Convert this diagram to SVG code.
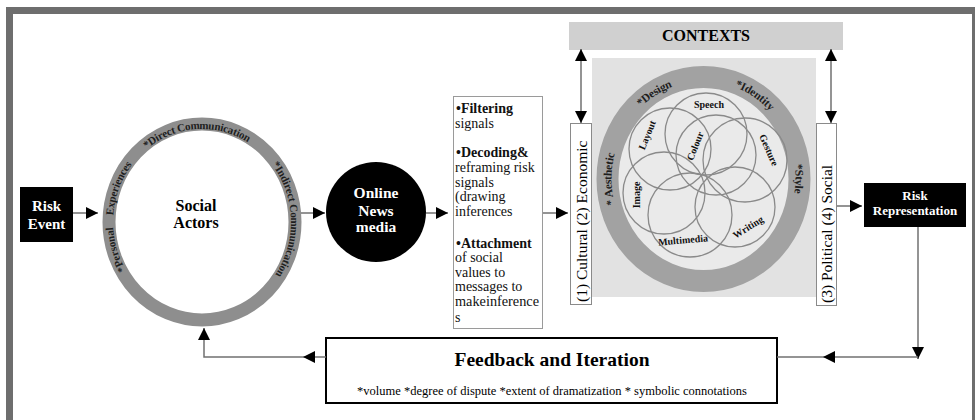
<svg xmlns="http://www.w3.org/2000/svg" width="975" height="420" viewBox="0 0 975 420">
<style>
  .serif { font-family: "Liberation Serif", "Times New Roman", serif; }
  .b { font-weight: bold; }
  .wt { fill: #ffffff; }
  .conn { stroke: #707070; stroke-width: 1.5; fill: none; }
  .ringtxt { font-family: "Liberation Serif", serif; font-weight: bold; fill: #1e1e1e; }
  .petal { fill: none; stroke: #8a8a8a; stroke-width: 1.3; }
  .plabel { font-family: "Liberation Serif", serif; font-weight: bold; font-size: 10px; fill: #111; text-anchor: middle; dominant-baseline: central; }
  .boxtxt { font-family: "Liberation Serif", serif; font-size: 14px; fill: #111; }
</style>
<defs>
  <marker id="ah" viewBox="0 0 12 12" refX="12" refY="6" markerWidth="12" markerHeight="12" markerUnits="userSpaceOnUse" orient="auto-start-reverse">
    <path d="M0,0 L12,6 L0,12 z" fill="#000"/>
  </marker>
  <path id="saPath" d="M202,319 A93,97 0 1,1 202,125 A93,97 0 1,1 202,319"/>
  <path id="bigPath" d="M703.5,281 A96,102 0 1,1 703.5,77 A96,102 0 1,1 703.5,281"/>
</defs>

<rect width="975" height="420" fill="#ffffff"/>
<rect x="9.5" y="10.5" width="966" height="430" fill="none" stroke="#6e6e6e" stroke-width="7"/>

<g id="risk-event">
  <rect x="20" y="187" width="53" height="55" fill="#000"/>
  <text class="serif b wt" font-size="15" x="46.5" y="211" text-anchor="middle">Risk</text>
  <text class="serif b wt" font-size="15" x="46.5" y="229" text-anchor="middle">Event</text>
</g>

<g id="social-actors">
  <ellipse cx="202" cy="222" rx="93" ry="98" fill="#fff" stroke="#8e8e8e" stroke-width="13"/>
  <text class="ringtxt" font-size="11" dominant-baseline="central"><textPath href="#saPath" startOffset="26%" text-anchor="middle" word-spacing="10">*Personal Experiences</textPath></text>
  <text class="ringtxt" font-size="11" dominant-baseline="central"><textPath href="#saPath" startOffset="49%" text-anchor="middle">*Direct Communication</textPath></text>
  <text class="ringtxt" font-size="11" dominant-baseline="central"><textPath href="#saPath" startOffset="74.5%" text-anchor="middle">*Indirect Communication</textPath></text>
  <text class="serif b" font-size="16" x="196" y="211" text-anchor="middle">Social</text>
  <text class="serif b" font-size="16" x="196" y="228" text-anchor="middle">Actors</text>
</g>

<g id="online-news">
  <circle cx="376" cy="212" r="50" fill="#000"/>
  <text class="serif b wt" font-size="15.5" x="376" y="198" text-anchor="middle">Online</text>
  <text class="serif b wt" font-size="15.5" x="376" y="216" text-anchor="middle">News</text>
  <text class="serif b wt" font-size="15.5" x="376" y="232" text-anchor="middle">media</text>
</g>

<g id="processing">
  <rect x="453.5" y="96.5" width="89" height="232" fill="#fff" stroke="#9a9a9a" stroke-width="1"/>
  <text class="boxtxt" x="456" y="113"><tspan font-weight="bold">•Filtering</tspan></text>
  <text class="boxtxt" x="455" y="128">signals</text>
  <text class="boxtxt" x="456" y="157"><tspan font-weight="bold">•Decoding&amp;</tspan></text>
  <text class="boxtxt" x="455" y="172">reframing risk</text>
  <text class="boxtxt" x="455" y="187">signals</text>
  <text class="boxtxt" x="455" y="201">(drawing</text>
  <text class="boxtxt" x="455" y="216">inferences</text>
  <text class="boxtxt" x="456" y="248"><tspan font-weight="bold">•Attachment</tspan></text>
  <text class="boxtxt" x="455" y="262">of social</text>
  <text class="boxtxt" x="455" y="277">values to</text>
  <text class="boxtxt" x="455" y="291">messages to</text>
  <text class="boxtxt" x="455" y="306" textLength="84" lengthAdjust="spacingAndGlyphs">makeinference</text>
  <text class="boxtxt" x="455" y="322" font-size="11">s</text>
</g>

<g id="contexts">
  <rect x="569" y="22" width="274" height="28" fill="#d0d0d0"/>
  <text class="serif b" font-size="16" x="706" y="41" text-anchor="middle">CONTEXTS</text>
</g>

<g id="context-left">
  <rect x="570.5" y="123.5" width="21" height="181" fill="#fff" stroke="#8a8a8a" stroke-width="1"/>
  <text class="serif" font-size="15.5" transform="translate(587,302) rotate(-90)">(1) Cultural (2) Economic</text>
</g>

<g id="modes">
  <rect x="592" y="58" width="224" height="239" fill="#e2e2e2"/>
  <ellipse cx="703.5" cy="179" rx="96" ry="102" fill="#eaeaea" stroke="#a2a2a2" stroke-width="22"/>
  <text class="ringtxt" font-size="11.5" fill="#3a3a3a" dominant-baseline="central"><textPath href="#bigPath" startOffset="25%" text-anchor="middle">* Aesthetic</textPath></text>
  <text class="ringtxt" font-size="11.5" fill="#3a3a3a" dominant-baseline="central"><textPath href="#bigPath" startOffset="41.5%" text-anchor="middle">*Design</textPath></text>
  <text class="ringtxt" font-size="11.5" fill="#3a3a3a" dominant-baseline="central"><textPath href="#bigPath" startOffset="59%" text-anchor="middle">*Identity</textPath></text>
  <text class="ringtxt" font-size="11.5" fill="#3a3a3a" dominant-baseline="central"><textPath href="#bigPath" startOffset="75%" text-anchor="middle">*Style</textPath></text>
  <circle class="petal" cx="706" cy="134" r="41"/>
  <circle class="petal" cx="670" cy="149" r="41"/>
  <circle class="petal" cx="716" cy="155" r="40"/>
  <circle class="petal" cx="745" cy="160" r="42"/>
  <circle class="petal" cx="664" cy="193" r="41"/>
  <circle class="petal" cx="690" cy="215" r="42"/>
  <circle class="petal" cx="735" cy="207" r="40"/>
  <text class="plabel" x="709" y="104">Speech</text>
  <text class="plabel" transform="translate(647,135) rotate(-68)">Layout</text>
  <text class="plabel" transform="translate(695,146) rotate(-68)">Colour</text>
  <text class="plabel" transform="translate(769,150) rotate(66)">Gesture</text>
  <text class="plabel" transform="translate(636,195) rotate(-90)">Image</text>
  <text class="plabel" transform="translate(683,240) rotate(-5)">Multimedia</text>
  <text class="plabel" transform="translate(748,227) rotate(-32)">Writing</text>
</g>

<g id="context-right">
  <rect x="816.5" y="123.5" width="20" height="182" fill="#fff" stroke="#8a8a8a" stroke-width="1"/>
  <text class="serif" font-size="15.5" transform="translate(832,303) rotate(-90)">(3) Political (4) Social</text>
</g>

<g id="risk-representation">
  <rect x="864" y="183" width="102" height="44" fill="#000"/>
  <text class="serif b wt" font-size="13" x="915" y="200" text-anchor="middle">Risk</text>
  <text class="serif b wt" font-size="13" x="915" y="215" text-anchor="middle">Representation</text>
</g>

<g id="feedback">
  <rect x="326" y="338" width="451" height="65" fill="#fff" stroke="#000" stroke-width="2"/>
  <text class="serif b" font-size="19.5" x="552" y="366" text-anchor="middle">Feedback and Iteration</text>
  <text class="serif" font-size="12.5" x="552" y="395" text-anchor="middle">*volume *degree of dispute *extent of dramatization * symbolic connotations</text>
</g>

<g id="connectors">
  <line class="conn" x1="73" y1="213" x2="98" y2="213" marker-end="url(#ah)"/>
  <line class="conn" x1="301" y1="213" x2="325" y2="213" marker-end="url(#ah)"/>
  <line class="conn" x1="426" y1="213" x2="448" y2="213" marker-end="url(#ah)"/>
  <line class="conn" x1="543" y1="213" x2="568" y2="213" marker-end="url(#ah)"/>
  <line class="conn" x1="837" y1="206" x2="862" y2="206" marker-end="url(#ah)"/>
  <line class="conn" x1="581" y1="49" x2="581" y2="123" marker-start="url(#ah)" marker-end="url(#ah)"/>
  <line class="conn" x1="831" y1="49" x2="831" y2="123" marker-start="url(#ah)" marker-end="url(#ah)"/>
  <line class="conn" x1="918" y1="227" x2="918" y2="359" marker-end="url(#ah)"/>
  <line class="conn" x1="918" y1="357" x2="823" y2="357" marker-end="url(#ah)"/>
  <line class="conn" x1="823" y1="357" x2="777" y2="357"/>
  <line class="conn" x1="326" y1="357" x2="303" y2="357" marker-end="url(#ah)"/>
  <polyline class="conn" points="303,357 204,357 204,328" marker-end="url(#ah)"/>
</g>
</svg>
